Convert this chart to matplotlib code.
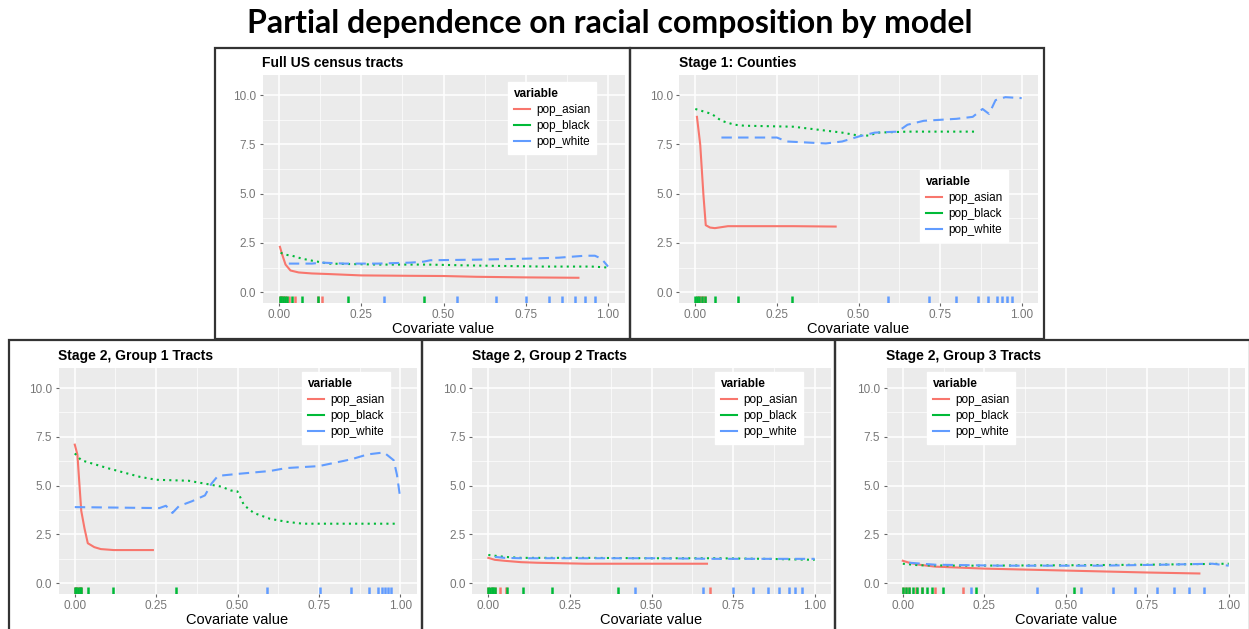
import matplotlib
matplotlib.use("Agg")
import matplotlib.pyplot as plt
from matplotlib.patches import Rectangle
from matplotlib.lines import Line2D

W, H = 1249, 629

TITLE = "Partial dependence on racial composition by model"
panel_titles = ["Full US census tracts", "Stage 1: Counties", "Stage 2, Group 1 Tracts",
                "Stage 2, Group 2 Tracts", "Stage 2, Group 3 Tracts"]
variables = ["pop_asian", "pop_black", "pop_white"]
x_label = "Covariate value"
legend_title = "variable"
x_ticks = [0.0, 0.25, 0.5, 0.75, 1.0]
x_tick_labels = ["0.00", "0.25", "0.50", "0.75", "1.00"]
y_ticks = [0.0, 2.5, 5.0, 7.5, 10.0]
y_tick_labels = ["0.0", "2.5", "5.0", "7.5", "10.0"]

# ---- Full US census tracts ----
full_asian_x = [0.003, 0.01, 0.02, 0.035, 0.06, 0.1, 0.15, 0.25, 0.4, 0.5, 0.6, 0.75, 0.91]
full_asian_y = [2.3, 1.9, 1.4, 1.1, 1.0, 0.95, 0.92, 0.85, 0.83, 0.82, 0.78, 0.75, 0.73]
full_black_x = [0.005, 0.02, 0.04, 0.07, 0.1, 0.15, 0.3, 0.45, 0.6, 0.8, 0.95, 1.0]
full_black_y = [2.0, 1.9, 1.85, 1.7, 1.6, 1.45, 1.4, 1.4, 1.35, 1.3, 1.3, 1.25]
full_white_x = [0.03, 0.1, 0.13, 0.2, 0.3, 0.4, 0.44, 0.46, 0.6, 0.75, 0.85, 0.93, 0.96, 0.98, 1.0]
full_white_y = [1.45, 1.45, 1.5, 1.45, 1.45, 1.5, 1.55, 1.62, 1.65, 1.7, 1.75, 1.85, 1.85, 1.7, 1.3]
full_asian_rug = [0.002, 0.005, 0.008, 0.012, 0.016, 0.02, 0.03, 0.05, 0.12, 0.13]
full_black_rug = [0.003, 0.007, 0.012, 0.018, 0.025, 0.04, 0.07, 0.12, 0.21, 0.44]
full_white_rug = [0.32, 0.54, 0.66, 0.75, 0.82, 0.86, 0.9, 0.93, 0.96]

# ---- Stage 1: Counties ----
cty_asian_x = [0.005, 0.015, 0.025, 0.032, 0.045, 0.06, 0.1, 0.2, 0.3, 0.43]
cty_asian_y = [8.9, 7.5, 4.9, 3.4, 3.28, 3.25, 3.35, 3.35, 3.35, 3.33]
cty_black_x = [0.0, 0.05, 0.08, 0.12, 0.15, 0.3, 0.4, 0.45, 0.5, 0.53, 0.56, 0.65, 0.86]
cty_black_y = [9.3, 9.05, 8.7, 8.5, 8.45, 8.4, 8.2, 8.1, 7.95, 7.95, 8.1, 8.15, 8.15]
cty_white_x = [0.08, 0.25, 0.28, 0.4, 0.45, 0.5, 0.55, 0.62, 0.65, 0.7, 0.8, 0.85, 0.88, 0.9, 0.92, 0.95, 1.0]
cty_white_y = [7.85, 7.85, 7.65, 7.55, 7.65, 7.9, 8.1, 8.15, 8.5, 8.7, 8.8, 8.9, 9.3, 9.05, 9.75, 9.9, 9.85]
cty_asian_rug = [0.005, 0.01, 0.015, 0.02, 0.025, 0.03]
cty_black_rug = [0.0, 0.005, 0.01, 0.02, 0.03, 0.06, 0.13, 0.295]
cty_white_rug = [0.59, 0.716, 0.8, 0.866, 0.897, 0.925, 0.94, 0.955, 0.97]

# ---- Stage 2, Group 1 Tracts ----
g1_asian_x = [0.0, 0.008, 0.015, 0.02, 0.03, 0.04, 0.06, 0.08, 0.12, 0.24]
g1_asian_y = [7.1, 6.6, 4.9, 3.7, 2.8, 2.05, 1.85, 1.75, 1.7, 1.7]
g1_black_x = [0.0, 0.02, 0.1, 0.2, 0.25, 0.35, 0.4, 0.45, 0.48, 0.5, 0.52, 0.55, 0.6, 0.65, 0.7, 0.99]
g1_black_y = [6.65, 6.3, 5.9, 5.45, 5.3, 5.25, 5.1, 4.95, 4.75, 4.7, 4.0, 3.6, 3.3, 3.15, 3.05, 3.05]
g1_white_x = [0.0, 0.26, 0.28, 0.3, 0.32, 0.36, 0.4, 0.42, 0.44, 0.5, 0.6, 0.65, 0.75, 0.85, 0.9,
              0.95, 0.98, 0.99, 1.0]
g1_white_y = [3.9, 3.85, 3.97, 3.6, 3.95, 4.2, 4.5, 5.1, 5.5, 5.6, 5.75, 5.9, 6.0, 6.35, 6.6,
              6.7, 6.3, 5.55, 4.35]
g1_asian_rug = [0.0, 0.004, 0.008, 0.012, 0.016, 0.02]
g1_black_rug = [0.0, 0.005, 0.01, 0.015, 0.02, 0.041, 0.116, 0.31]
g1_white_rug = [0.59, 0.754, 0.85, 0.905, 0.933, 0.943, 0.953, 0.963, 0.973]

# ---- Stage 2, Group 2 Tracts ----
g2_asian_x = [0.0, 0.02, 0.05, 0.1, 0.15, 0.3, 0.5, 0.67]
g2_asian_y = [1.3, 1.2, 1.15, 1.08, 1.05, 1.0, 1.0, 1.0]
g2_black_x = [0.0, 0.05, 0.1, 0.3, 0.5, 0.7, 0.85, 1.0]
g2_black_y = [1.45, 1.35, 1.3, 1.3, 1.28, 1.28, 1.25, 1.2]
g2_white_x = [0.02, 0.05, 0.1, 0.3, 0.5, 0.7, 0.9, 1.0]
g2_white_y = [1.35, 1.3, 1.28, 1.28, 1.28, 1.25, 1.25, 1.25]
g2_asian_rug = [0.0, 0.01, 0.02, 0.035, 0.055, 0.68]
g2_black_rug = [0.0, 0.005, 0.01, 0.015, 0.02, 0.056, 0.107, 0.194, 0.398]
g2_white_rug = [0.449, 0.658, 0.75, 0.81, 0.857, 0.89, 0.92, 0.94, 0.96]

# ---- Stage 2, Group 3 Tracts ----
g3_asian_x = [0.0, 0.02, 0.05, 0.1, 0.25, 0.5, 0.75, 0.91]
g3_asian_y = [1.15, 1.05, 0.95, 0.85, 0.75, 0.65, 0.55, 0.5]
g3_black_x = [0.0, 0.05, 0.2, 0.5, 0.75, 1.0]
g3_black_y = [1.0, 0.92, 0.9, 0.92, 0.95, 1.0]
g3_white_x = [0.02, 0.1, 0.3, 0.6, 0.8, 0.95, 1.0]
g3_white_y = [1.05, 0.95, 0.9, 0.9, 0.95, 1.0, 0.9]
g3_asian_rug = [0.0, 0.01, 0.02, 0.04, 0.06, 0.1, 0.184]
g3_black_rug = [0.0, 0.01, 0.02, 0.03, 0.045, 0.06, 0.075, 0.09, 0.122, 0.224, 0.526]
g3_white_rug = [0.209, 0.413, 0.548, 0.646, 0.714, 0.779, 0.832, 0.878, 0.923]

colors = ["#F8766D", "#00BA38", "#619CFF"]
styles = ["-", (0, (1, 2)), (0, (5, 3))]

panels = [
    dict(title=panel_titles[0], box=(215, 48, 630, 339), ax=(262.5, 75, 624.5, 302.5), leg=(508, 82),
         lines=[(full_asian_x, full_asian_y), (full_black_x, full_black_y), (full_white_x, full_white_y)],
         rugs=[full_asian_rug, full_black_rug, full_white_rug]),
    dict(title=panel_titles[1], box=(630, 48, 1044, 339), ax=(679, 75, 1038, 302.5), leg=(920, 170),
         lines=[(cty_asian_x, cty_asian_y), (cty_black_x, cty_black_y), (cty_white_x, cty_white_y)],
         rugs=[cty_asian_rug, cty_black_rug, cty_white_rug]),
    dict(title=panel_titles[2], box=(9, 340, 422, 640), ax=(58.5, 368, 416.5, 593.5), leg=(302, 372),
         lines=[(g1_asian_x, g1_asian_y), (g1_black_x, g1_black_y), (g1_white_x, g1_white_y)],
         rugs=[g1_asian_rug, g1_black_rug, g1_white_rug]),
    dict(title=panel_titles[3], box=(422, 340, 835, 640), ax=(472, 368, 831, 593.5), leg=(715, 372),
         lines=[(g2_asian_x, g2_asian_y), (g2_black_x, g2_black_y), (g2_white_x, g2_white_y)],
         rugs=[g2_asian_rug, g2_black_rug, g2_white_rug]),
    dict(title=panel_titles[4], box=(835, 340, 1250, 640), ax=(886.5, 368, 1245, 593.5), leg=(927, 372),
         lines=[(g3_asian_x, g3_asian_y), (g3_black_x, g3_black_y), (g3_white_x, g3_white_y)],
         rugs=[g3_asian_rug, g3_black_rug, g3_white_rug]),
]

fig = plt.figure(figsize=(W / 100, H / 100), dpi=100)
fig.patch.set_facecolor("white")


def fx(x):
    return x / W


def fy(y):
    return 1 - y / H


fig.text(fx(610), fy(23), TITLE, ha="center", va="center", fontsize=23, fontweight="bold",
         family="Lato", color="black")

for p in panels:
    x0, y0, x1, y1 = p["box"]
    fig.patches.append(Rectangle((fx(x0), fy(y1)), fx(x1 - x0), (y1 - y0) / H, fill=False,
                                 edgecolor="#333333", linewidth=1.6, transform=fig.transFigure,
                                 zorder=10))
    a0, b0, a1, b1 = p["ax"]
    ax = fig.add_axes([fx(a0), fy(b1), fx(a1 - a0), (b1 - b0) / H])
    ax.set_facecolor("#EBEBEB")
    ax.set_xlim(-0.05, 1.05)
    ax.set_ylim(-0.525, 11.025)
    for s in ax.spines.values():
        s.set_visible(False)
    ax.set_xticks(x_ticks)
    ax.set_xticklabels(x_tick_labels)
    ax.set_yticks(y_ticks)
    ax.set_yticklabels(y_tick_labels)
    ax.set_xticks([0.125, 0.375, 0.625, 0.875], minor=True)
    ax.set_yticks([1.25, 3.75, 6.25, 8.75], minor=True)
    ax.grid(which="major", color="white", linewidth=1.1)
    ax.grid(which="minor", color="white", linewidth=0.5)
    ax.set_axisbelow(True)
    ax.tick_params(which="major", length=2.5, width=0.8, color="#666666", labelsize=8.5,
                   labelcolor="#777777", pad=2)
    ax.tick_params(which="minor", length=0)
    for lab in ax.get_xticklabels() + ax.get_yticklabels():
        lab.set_family("Liberation Sans")
    ax.set_xlabel(x_label, fontsize=10.5, family="Liberation Sans", labelpad=1, color="black")
    ax.text(0.0, 1.02, p["title"], transform=ax.transAxes, fontsize=10, fontweight="bold",
            family="Liberation Sans", ha="left", va="bottom")
    for (xs, ys), c, ls in zip(p["lines"], colors, styles):
        ax.plot(xs, ys, color=c, linestyle=ls, linewidth=1.5)
    trans = ax.get_xaxis_transform()
    for rug, c in zip(p["rugs"], colors):
        ax.vlines(rug, 0, 0.03, colors=c, linewidth=1.8, transform=trans)
    handles = [Line2D([], [], color=c, linestyle="-", linewidth=1.5) for c in colors]
    lx, ly = p["leg"]
    leg = ax.legend(handles, variables, title=legend_title, loc="upper left",
                    bbox_to_anchor=(fx(lx), fy(ly)), bbox_transform=fig.transFigure,
                    frameon=True, fancybox=False, edgecolor="white", facecolor="white",
                    framealpha=1, handlelength=1.4,
                    handletextpad=0.5, labelspacing=0.35, borderpad=0.5, borderaxespad=0,
                    alignment="left", prop={"family": "Liberation Sans", "size": 8.5})
    leg.get_title().set_fontweight("bold")
    leg.get_title().set_family("Liberation Sans")
    leg.get_title().set_fontsize(8.5)

fig.savefig("out.png", dpi=100, facecolor="white")
